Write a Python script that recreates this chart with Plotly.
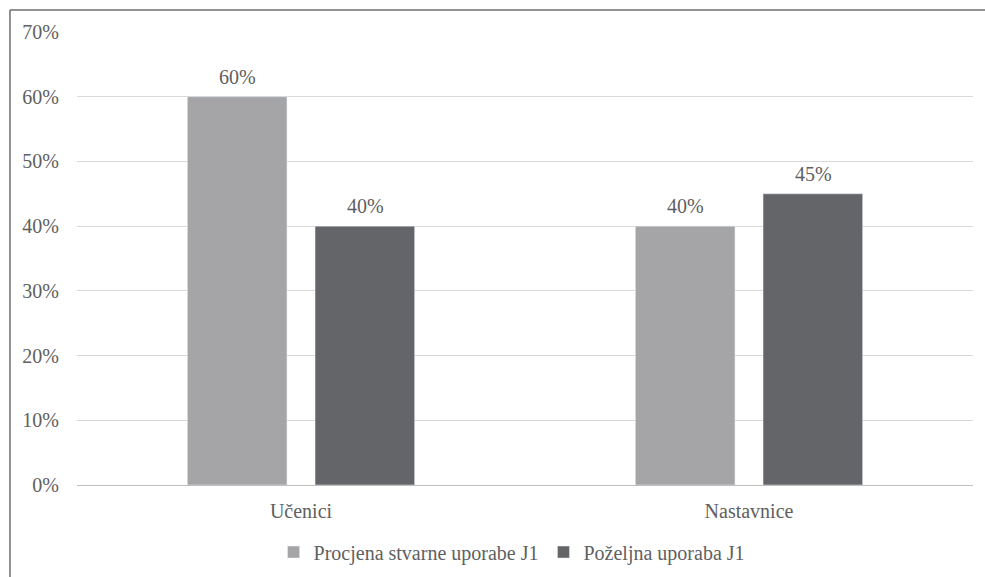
import plotly.graph_objects as go

categories = ["Učenici", "Nastavnice"]
series_names = ["Procjena stvarne uporabe J1", "Poželjna uporaba J1"]
actual_use = [60, 40]
desired_use = [40, 45]
tick_vals = [0, 10, 20, 30, 40, 50, 60, 70]
tick_text = [f"{v}%" for v in tick_vals]

colors = ["#A5A5A8", "#646569"]
font_family = "Liberation Serif"
text_color = "#606060"
fs = 20

fig = go.Figure()
for name, vals, col in zip(series_names, [actual_use, desired_use], colors):
    fig.add_trace(go.Bar(
        x=categories, y=vals, name=name, marker_color=col,
    ))

annotations = []
for vals, shift in zip([actual_use, desired_use], [-64, 64]):
    for c, v in zip(categories, vals):
        annotations.append(dict(x=c, y=v, xref="x", yref="y", text=f"{v}%", showarrow=False,
                                xshift=shift, yshift=20, yanchor="middle",
                                font=dict(family=font_family, size=fs, color=text_color)))

fig.update_layout(
    width=985, height=577,
    margin=dict(l=77, r=12, t=32, b=92, autoexpand=False),
    paper_bgcolor="white", plot_bgcolor="white",
    barmode="group", bargap=0.43, bargroupgap=0.22,
    font=dict(family=font_family, size=fs, color=text_color),
    showlegend=True,
    legend=dict(orientation="h", x=0.485, xanchor="center", y=-0.148, yanchor="middle",
                font=dict(family=font_family, size=fs, color=text_color),
                itemwidth=30, tracegroupgap=0),
    annotations=annotations,
    xaxis=dict(showgrid=False, showline=True, linecolor="#BFBFBF", linewidth=1,
               ticks="", tickfont=dict(family=font_family, size=fs, color=text_color),
               ticklabelstandoff=8, automargin=False),
    yaxis=dict(range=[0, 70], tickvals=tick_vals, ticktext=tick_text,
               showgrid=True, gridcolor="#D9D9D9", gridwidth=1, zeroline=False,
               showline=False, ticks="", ticklabelstandoff=17, automargin=False,
               tickfont=dict(family=font_family, size=fs, color=text_color)),
    shapes=[
        dict(type="line", xref="paper", yref="paper", x0=-0.0748, x1=-0.0748, y0=1.0486, y1=-0.25,
             line=dict(color="#6E6E6E", width=1.5)),
        dict(type="line", xref="paper", yref="paper", x0=-0.0748, x1=1.05, y0=1.0486, y1=1.0486,
             line=dict(color="#6E6E6E", width=1.5)),
    ],
)

fig.write_html("out.html")
